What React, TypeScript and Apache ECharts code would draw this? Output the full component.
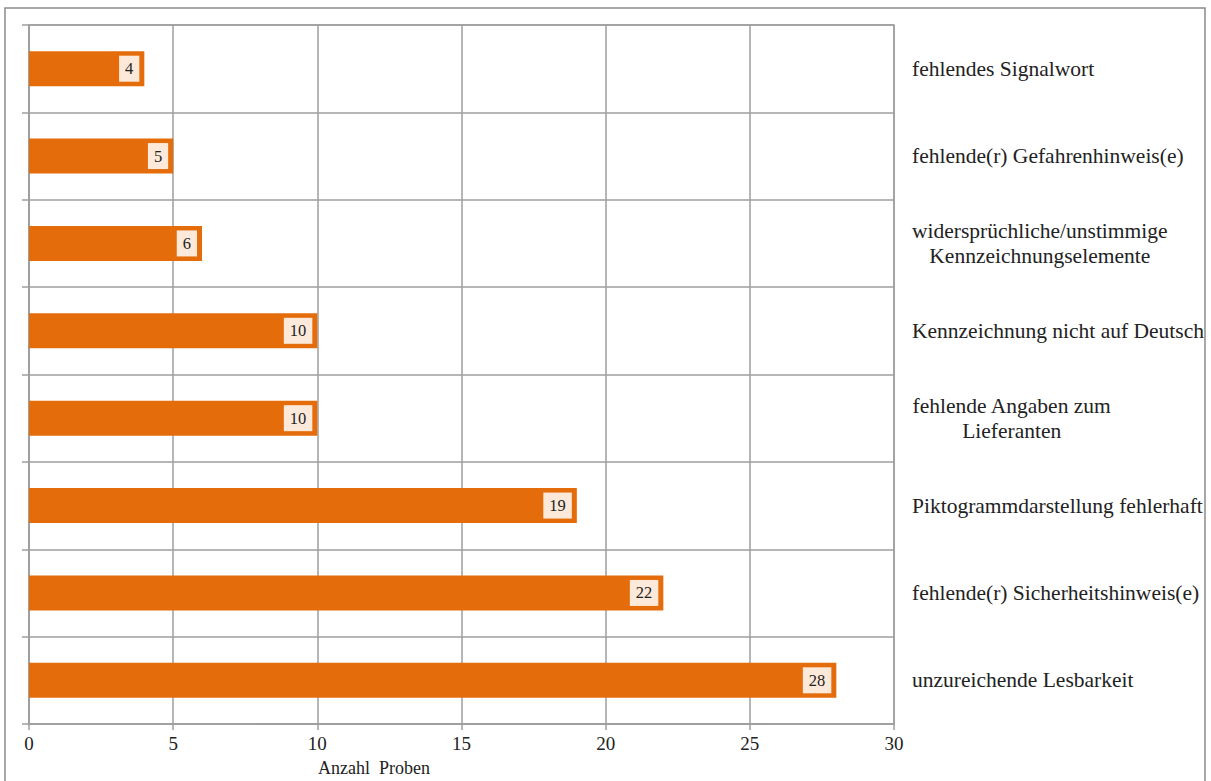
import React, { useEffect, useRef } from "react";
import * as echarts from "echarts";

// Categories listed from top to bottom
const categories: string[] = [
  "fehlendes Signalwort",
  "fehlende(r) Gefahrenhinweis(e)",
  "widersprüchliche/unstimmige\nKennzeichnungselemente",
  "Kennzeichnung nicht auf Deutsch",
  "fehlende Angaben zum\nLieferanten",
  "Piktogrammdarstellung fehlerhaft",
  "fehlende(r) Sicherheitshinweis(e)",
  "unzureichende Lesbarkeit",
];
const counts: number[] = [4, 5, 6, 10, 10, 19, 22, 28];
const xTicks = { min: 0, max: 30, interval: 5 };
const axisTitle = "Anzahl  Proben";

const SERIF = "'Liberation Serif', 'Times New Roman', serif";
const GRID = "#9e9e9e";
const TEXT = "#222222";

export default function App() {
  const ref = useRef<HTMLDivElement>(null);

  useEffect(() => {
    if (!ref.current) return;
    const chart = echarts.init(ref.current, undefined, { renderer: "svg" });

    // multi-line labels: every line centred inside the label block
    const catFormatter = (v: string) =>
      v.includes("\n")
        ? v
            .split("\n")
            .map((l) => `{c|${l}}`)
            .join("\n")
        : v;

    chart.setOption({
      animation: false,
      backgroundColor: "#ffffff",
      textStyle: { fontFamily: SERIF },
      grid: {
        left: 29,
        right: 317,
        top: 25,
        bottom: 57,
        show: true,
        borderColor: GRID,
        borderWidth: 1.5,
      },
      xAxis: {
        type: "value",
        min: xTicks.min,
        max: xTicks.max,
        interval: xTicks.interval,
        axisLine: { show: true, lineStyle: { color: GRID, width: 1.5 } },
        axisTick: { show: true, length: 6, lineStyle: { color: GRID, width: 1.5 } },
        splitLine: { show: true, lineStyle: { color: GRID, width: 1.5 } },
        axisLabel: { color: TEXT, fontSize: 19, fontFamily: SERIF, margin: 10 },
      },
      yAxis: [
        {
          type: "category",
          data: categories,
          inverse: true,
          position: "left",
          axisLine: { show: true, lineStyle: { color: GRID, width: 1.5 } },
          axisTick: { show: true, length: 7, lineStyle: { color: GRID, width: 1.5 } },
          splitLine: { show: true, lineStyle: { color: GRID, width: 1.5 } },
          axisLabel: { show: false },
        },
        {
          type: "category",
          data: categories,
          inverse: true,
          position: "right",
          axisLine: { show: false },
          axisTick: { show: false },
          splitLine: { show: false },
          axisLabel: {
            show: true,
            margin: 18,
            align: "left",
            color: TEXT,
            fontSize: 21.5,
            fontFamily: SERIF,
            lineHeight: 25,
            formatter: catFormatter,
            rich: {
              c: {
                align: "center",
                color: TEXT,
                fontSize: 21.5,
                fontFamily: SERIF,
                lineHeight: 25,
              },
            },
          },
        },
      ],
      series: [
        {
          type: "bar",
          yAxisIndex: 0,
          data: counts,
          barWidth: 35,
          itemStyle: { color: "#E46C0A" },
          label: {
            show: true,
            position: "insideRight",
            distance: 5,
            color: TEXT,
            fontSize: 16.5,
            fontFamily: SERIF,
            backgroundColor: "#FDE9D9",
            padding: [5, 6, 4, 6],
          },
        },
      ],
      graphic: [
        {
          type: "rect",
          shape: { x: 5, y: 8, width: 1200, height: 800 },
          style: { fill: "none", stroke: "#8a8a8a", lineWidth: 1.5 },
          silent: true,
        },
        {
          type: "text",
          left: 318,
          top: 759,
          style: {
            text: axisTitle,
            fill: TEXT,
            fontSize: 18,
            fontFamily: SERIF,
          },
        },
      ],
    });

    return () => chart.dispose();
  }, []);

  return (
    <div
      ref={ref}
      style={{ position: "fixed", left: 0, top: 0, width: 1211, height: 781 }}
    />
  );
}
